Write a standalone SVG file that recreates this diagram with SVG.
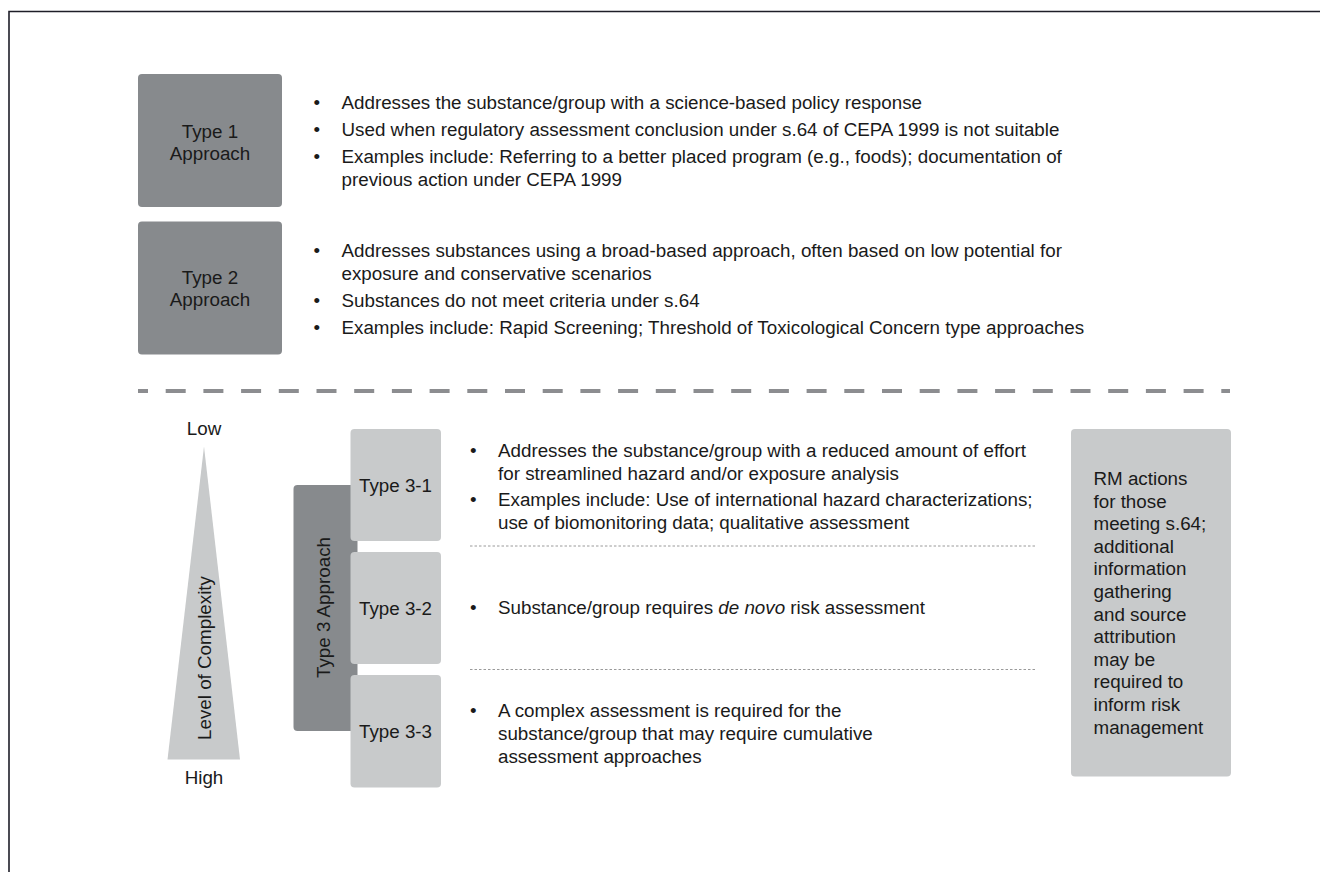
<svg xmlns="http://www.w3.org/2000/svg" width="1320" height="872" viewBox="0 0 1320 872">
<style>
text{font-family:"Liberation Sans",Arial,sans-serif;font-size:18.8px;fill:#1a1a1a}
.c{text-anchor:middle}
.dark{fill:#878a8d}
.light{fill:#c8cacb}
.dot{stroke:#9a9a9a;stroke-width:1;stroke-dasharray:2.5 2}
</style>
<rect width="1320" height="872" fill="#ffffff"/>
<path d="M9,872 V11.5 H1320" fill="none" stroke="#1e1e28" stroke-width="1.6"/>

<g id="type1">
<rect class="dark" x="138" y="74" width="144" height="133" rx="4"/>
<text class="c" x="210" y="138">Type 1</text>
<text class="c" x="210" y="160">Approach</text>
</g>
<g id="type1-text">
<text x="313.5" y="109">•</text><text x="341.5" y="109">Addresses the substance/group with a science-based policy response</text>
<text x="313.5" y="136">•</text><text x="341.5" y="136">Used when regulatory assessment conclusion under s.64 of CEPA 1999 is not suitable</text>
<text x="313.5" y="163">•</text><text x="341.5" y="163">Examples include: Referring to a better placed program (e.g., foods); documentation of</text>
<text x="341.5" y="186">previous action under CEPA 1999</text>
</g>

<g id="type2">
<rect class="dark" x="138" y="221.5" width="144" height="133" rx="4"/>
<text class="c" x="210" y="284">Type 2</text>
<text class="c" x="210" y="306">Approach</text>
</g>
<g id="type2-text">
<text x="313.5" y="257">•</text><text x="341.5" y="257">Addresses substances using a broad-based approach, often based on low potential for</text>
<text x="341.5" y="280">exposure and conservative scenarios</text>
<text x="313.5" y="307">•</text><text x="341.5" y="307">Substances do not meet criteria under s.64</text>
<text x="313.5" y="334">•</text><text x="341.5" y="334">Examples include: Rapid Screening; Threshold of Toxicological Concern type approaches</text>
</g>

<g id="connectors">
<line x1="138" y1="391" x2="1230" y2="391" stroke="#8c8d90" stroke-width="4" stroke-dasharray="20 17.7" stroke-dashoffset="10"/>
<line class="dot" x1="470" y1="546" x2="1037" y2="546"/>
<line class="dot" x1="470" y1="669.5" x2="1037" y2="669.5"/>
</g>

<g id="complexity">
<polygon points="204,446.5 240,759.5 167.5,759.5" fill="#c8cacb"/>
<text class="c" x="204" y="435">Low</text>
<text class="c" x="204" y="784">High</text>
<text class="c" transform="translate(211,658) rotate(-90)">Level of Complexity</text>
</g>

<g id="type3">
<rect class="dark" x="293.5" y="485" width="64" height="246" rx="4"/>
<text class="c" transform="translate(329.5,607.5) rotate(-90)">Type 3 Approach</text>
</g>

<g id="type3-1">
<rect class="light" x="350.5" y="429" width="90.5" height="112" rx="4"/>
<text class="c" x="395.5" y="492">Type 3-1</text>
</g>
<g id="type3-2">
<rect class="light" x="350.5" y="552" width="90.5" height="112" rx="4"/>
<text class="c" x="395.5" y="615">Type 3-2</text>
</g>
<g id="type3-3">
<rect class="light" x="350.5" y="675" width="90.5" height="112.5" rx="4"/>
<text class="c" x="395.5" y="737.5">Type 3-3</text>
</g>

<g id="type3-text">
<text x="470" y="457">•</text><text x="498" y="457">Addresses the substance/group with a reduced amount of effort</text>
<text x="498" y="480">for streamlined hazard and/or exposure analysis</text>
<text x="470" y="506">•</text><text x="498" y="506">Examples include: Use of international hazard characterizations;</text>
<text x="498" y="529">use of biomonitoring data; qualitative assessment</text>
<text x="470" y="614">•</text><text x="498" y="614">Substance/group requires <tspan font-style="italic">de novo</tspan> risk assessment</text>
<text x="470" y="717">•</text><text x="498" y="717">A complex assessment is required for the</text>
<text x="498" y="740">substance/group that may require cumulative</text>
<text x="498" y="763">assessment approaches</text>
</g>

<g id="rm">
<rect class="light" x="1071" y="429" width="160" height="347.5" rx="4"/>
<text x="1093.5" y="485">RM actions</text>
<text x="1093.5" y="507.6">for those</text>
<text x="1093.5" y="530.2">meeting s.64;</text>
<text x="1093.5" y="552.8">additional</text>
<text x="1093.5" y="575.4">information</text>
<text x="1093.5" y="598">gathering</text>
<text x="1093.5" y="620.6">and source</text>
<text x="1093.5" y="643.2">attribution</text>
<text x="1093.5" y="665.8">may be</text>
<text x="1093.5" y="688.4">required to</text>
<text x="1093.5" y="711">inform risk</text>
<text x="1093.5" y="733.6">management</text>
</g>
</svg>
